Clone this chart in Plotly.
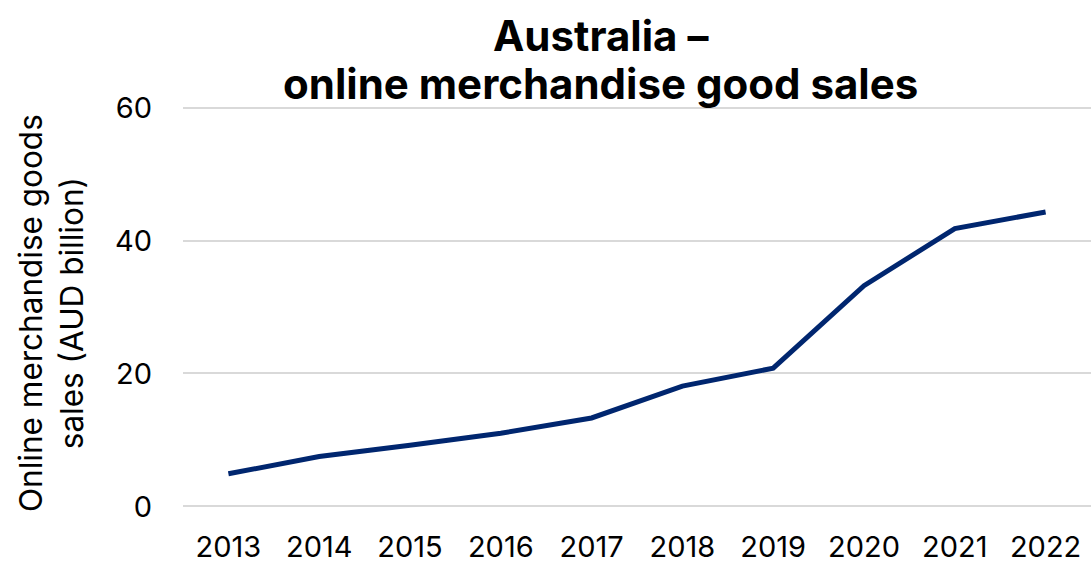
import plotly.graph_objects as go

# Annual online merchandise goods sales, Australia (AUD billion)
years = ["2013", "2014", "2015", "2016", "2017", "2018", "2019", "2020", "2021", "2022"]
sales = [4.9, 7.5, 9.2, 11.0, 13.3, 18.1, 20.8, 33.2, 41.8, 44.3]
y_ticks = [0, 20, 40, 60]

FONT = "Inter"
NAVY = "#00266f"
GRID = "#d9d9d9"

TOP, BOTTOM = 101, 53
PLOT_H = 566 - TOP - BOTTOM


def paper_y(px):
    """Convert a pixel row (from the top of the page) to paper y."""
    return (566 - BOTTOM - px) / PLOT_H


fig = go.Figure(
    go.Scatter(
        x=years,
        y=sales,
        mode="lines",
        line=dict(color=NAVY, width=5),
        hoverinfo="x+y",
    )
)

fig.update_layout(
    width=1091,
    height=566,
    margin=dict(l=183, r=0, t=TOP, b=BOTTOM),
    paper_bgcolor="white",
    plot_bgcolor="white",
    showlegend=False,
    font=dict(family=FONT, color="#000000", size=29),
    xaxis=dict(
        type="category",
        range=[-0.5, 9.5],
        showgrid=False,
        showline=False,
        zeroline=False,
        ticks="",
        tickfont=dict(size=29),
        ticklabelstandoff=14,
        automargin=False,
    ),
    yaxis=dict(
        range=[-1, 61],
        tickvals=y_ticks,
        showgrid=True,
        gridcolor=GRID,
        gridwidth=1.5,
        zeroline=True,
        zerolinecolor=GRID,
        zerolinewidth=1.5,
        showline=False,
        ticks="",
        tickfont=dict(size=29),
        ticklabelstandoff=30,
        automargin=False,
    ),
    annotations=[
        dict(
            text="<b>Australia –</b>",
            xref="paper", yref="paper",
            x=(600 - 183) / (1091 - 183), y=paper_y(35),
            xanchor="center", yanchor="middle",
            showarrow=False,
            font=dict(family=FONT, size=42, color="#000000"),
        ),
        dict(
            text="<b>online merchandise good sales</b>",
            xref="paper", yref="paper",
            x=(600 - 183) / (1091 - 183), y=paper_y(84),
            xanchor="center", yanchor="middle",
            showarrow=False,
            font=dict(family=FONT, size=42, color="#000000"),
        ),
        dict(
            text="Online merchandise goods<br>sales (AUD billion)",
            xref="paper", yref="paper",
            x=0, y=paper_y(313),
            xanchor="right", yanchor="middle",
            xshift=-90,
            textangle=-90,
            showarrow=False,
            font=dict(family=FONT, size=31.5, color="#000000"),
        ),
    ],
)

fig.write_html("out.html")
